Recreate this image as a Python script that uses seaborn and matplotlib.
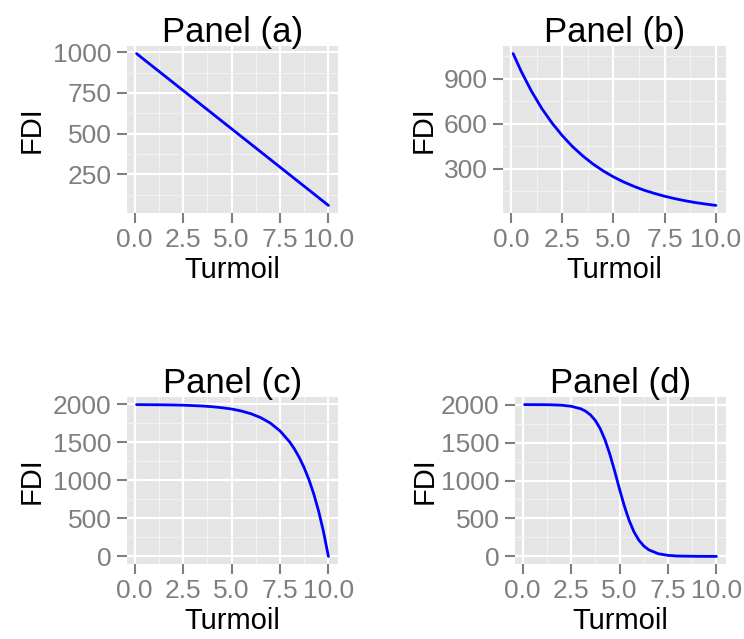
import pandas as pd
import seaborn as sns
import matplotlib.pyplot as plt
from matplotlib.ticker import AutoMinorLocator, FormatStrFormatter

# values
turmoil = [0.1, 0.5, 1.0, 1.5, 2.0, 2.5, 3.0, 3.5, 4.0, 4.5, 5.0,
           5.5, 6.0, 6.5, 7.0, 7.5, 8.0, 8.5, 9.0, 9.5, 10.0]
fdi_a = [991, 953, 906, 859, 812, 765, 718, 671, 624, 577, 530,
         483, 436, 389, 342, 295, 248, 201, 154, 107, 60]
fdi_b = [1067, 947, 815, 701, 604, 520, 447, 385, 331, 285, 245,
         211, 182, 156, 135, 116, 100, 86, 74, 64, 55]

turmoil_c = [0.1, 0.5, 1.0, 1.5, 2.0, 2.5, 3.0, 3.5, 4.0, 4.5, 5.0, 5.5, 6.0,
             6.5, 7.0, 7.5, 8.0, 8.25, 8.5, 8.75, 9.0, 9.25, 9.5, 9.75, 10.0]
fdi_c = [1998, 1997, 1996, 1995, 1993, 1990, 1985, 1979, 1970, 1957, 1940, 1914, 1878,
         1827, 1755, 1652, 1507, 1412, 1300, 1166, 1007, 817, 591, 321, 0]

turmoil_d = [0.1, 0.5, 1.0, 1.5, 2.0, 2.5, 3.0, 3.25, 3.5, 3.75, 4.0, 4.25, 4.5, 4.75,
             5.0, 5.25, 5.5, 5.75, 6.0, 6.25, 6.5, 7.0, 7.5, 8.0, 9.0, 10.0]
fdi_d = [2000, 1999, 1999, 1997, 1992, 1978, 1945, 1913, 1864, 1791, 1684, 1536, 1346, 1123,
         886, 662, 471, 321, 213, 138, 88, 35, 14, 5, 1, 0]

panels = [
    ("Panel (a)", turmoil, fdi_a, [250, 500, 750, 1000]),
    ("Panel (b)", turmoil, fdi_b, [300, 600, 900]),
    ("Panel (c)", turmoil_c, fdi_c, [0, 500, 1000, 1500, 2000]),
    ("Panel (d)", turmoil_d, fdi_d, [0, 500, 1000, 1500, 2000]),
]

# axes boxes in pixels (left, top, right, bottom) and y label offset
W, H = 744, 639
boxes = [(127, 46, 338, 213), (503, 46, 726, 213),
         (127, 397, 338, 564), (515, 397, 726, 564)]
ylab_x = [-0.384, -0.291, -0.384, -0.36]

sns.set_theme(style="darkgrid", rc={
    "axes.facecolor": "#E5E5E5",
    "grid.color": "white",
    "axes.edgecolor": "white",
    "text.color": "black",
    "axes.labelcolor": "black",
})
plt.rcParams["font.family"] = ["Liberation Sans", "DejaVu Sans"]

fig = plt.figure(figsize=(W / 100, H / 100), dpi=100)
fig.patch.set_facecolor("white")

for (title, x, y, yticks), (l, t, r, b), ylx in zip(panels, boxes, ylab_x):
    ax = fig.add_axes([l / W, 1 - b / H, (r - l) / W, (b - t) / H])
    df = pd.DataFrame({"Turmoil": x, "FDI": y})
    sns.lineplot(data=df, x="Turmoil", y="FDI", ax=ax, color="blue", linewidth=2.0)
    for s in ax.spines.values():
        s.set_visible(False)
    ax.set_xticks([0, 2.5, 5, 7.5, 10])
    ax.set_yticks(yticks)
    ax.xaxis.set_major_formatter(FormatStrFormatter("%.1f"))
    ax.xaxis.set_minor_locator(AutoMinorLocator(2))
    ax.yaxis.set_minor_locator(AutoMinorLocator(2))
    ax.grid(which="major", color="white", linewidth=1.6)
    ax.grid(which="minor", color="#F2F2F2", linewidth=0.8)
    ax.tick_params(which="major", bottom=True, left=True, length=7, width=1.5,
                   color="#7F7F7F", labelcolor="#7F7F7F", labelsize=19, pad=4)
    ax.tick_params(which="minor", length=0)
    ax.set_title(title, fontsize=25, pad=3, color="black")
    ax.set_xlabel("Turmoil", fontsize=21, color="black")
    ax.set_ylabel("FDI", fontsize=21, color="black")
    ax.xaxis.set_label_coords(0.5, -0.26)
    ax.yaxis.set_label_coords(ylx, 0.5)

fig.savefig("out.png", dpi=100)
